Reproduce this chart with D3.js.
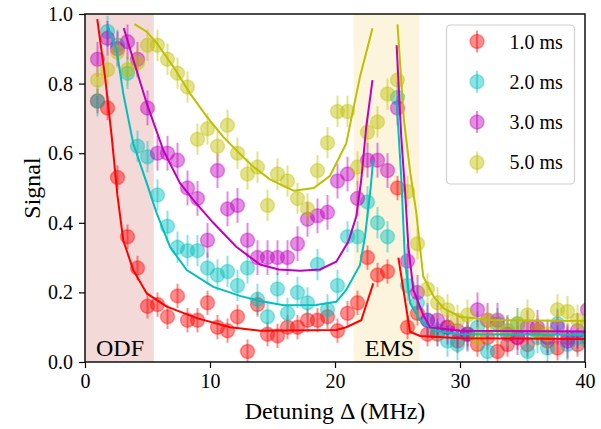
<!DOCTYPE html>
<html>
<head>
<meta charset="utf-8">
<script src="https://cdn.jsdelivr.net/npm/d3@7"></script>
<style>
  body { margin: 0; background: #fff; }
  svg { display: block; font-family: "Liberation Serif", "Times New Roman", serif; }
</style>
</head>
<body>
<div id="chart"></div>
<script>
// detuning grid (MHz)
var detuning = [1.0, 1.8, 2.6, 3.4, 4.2, 5.0, 5.8, 6.6, 7.4, 8.2,
    9.0, 9.8, 10.6, 11.4, 12.2, 13.0, 13.8, 14.6, 15.4, 16.2,
    17.0, 17.8, 18.6, 19.4, 20.2, 21.0, 21.8, 22.6, 23.4, 24.2,
    25.0, 25.8, 26.6, 27.4, 28.2, 29.0, 29.8, 30.6, 31.4, 32.2,
    33.0, 33.8, 34.6, 35.4, 36.2, 37.0, 37.8, 38.6, 39.4, 40.2];

var labels = ['1.0 ms', '2.0 ms', '3.0 ms', '5.0 ms'];
var colors = ['#ff0000', '#00bfbf', '#bf00bf', '#bfbf00'];
var errs = [0.035, 0.045, 0.05, 0.045];

var sig1 = [0.75, 0.73, 0.53, 0.36, 0.27, 0.16, 0.165, 0.13, 0.19, 0.12,
    0.12, 0.17, 0.10, 0.09, 0.13, 0.03, 0.165, 0.08, 0.075, 0.10,
    0.10, 0.12, 0.12, 0.13, 0.09, 0.14, 0.17, 0.30, 0.25, 0.26,
    0.50, 0.10, 0.14, 0.08, 0.08, 0.10, 0.06, 0.08, 0.05, 0.07,
    0.03, 0.05, 0.07, 0.05, 0.09, 0.06, 0.04, 0.07, 0.05, 0.07];
var sig2 = [0.75, 0.95, 0.91, 0.83, 0.62, 0.59, 0.48, 0.39, 0.33, 0.32,
    0.32, 0.27, 0.25, 0.26, 0.22, 0.27, 0.18, 0.13, 0.21, 0.14,
    0.20, 0.17, 0.28, 0.15, 0.22, 0.36, 0.36, 0.46, 0.40, 0.36,
    0.76, 0.22, 0.17, 0.12, 0.09, 0.06, 0.05, 0.08, 0.10, 0.03,
    0.11, 0.09, 0.11, 0.03, 0.07, 0.04, 0.11, 0.05, 0.07, 0.06];
var sig3 = [0.87, 0.93, 0.90, 0.92, 0.87, 0.73, 0.60, 0.60, 0.58, 0.50,
    0.47, 0.35, 0.55, 0.44, 0.45, 0.35, 0.30, 0.30, 0.30, 0.30,
    0.34, 0.41, 0.42, 0.43, 0.52, 0.54, 0.47, 0.58, 0.58, 0.55,
    0.73, 0.29, 0.20, 0.12, 0.12, 0.10, 0.09, 0.08, 0.15, 0.12,
    0.12, 0.08, 0.07, 0.10, 0.10, 0.07, 0.10, 0.06, 0.09, 0.15];
var sig5 = [0.81, 0.84, 0.89, 0.84, 0.86, 0.91, 0.91, 0.87, 0.83, 0.79,
    0.64, 0.67, 0.62, 0.68, 0.60, 0.54, 0.56, 0.45, 0.54, 0.52,
    0.47, 0.44, 0.55, 0.63, 0.72, 0.72, 0.56, 0.66, 0.69, 0.77,
    0.81, 0.49, 0.34, 0.21, 0.17, 0.15, 0.12, 0.135, 0.07, 0.12,
    0.10, 0.09, 0.11, 0.135, 0.09, 0.08, 0.15, 0.145, 0.12, 0.11];

// model curves, two branches each (left / right of the EMS resonance)
var fit1L = [[0.98, 0.985], [1.6, 0.82], [2.13, 0.65], [2.59, 0.48], [3.06, 0.35], [3.86, 0.264],
    [4.94, 0.197], [6.54, 0.159], [8.94, 0.126], [11.6, 0.10], [14, 0.09], [20.1, 0.092],
    [20.9, 0.10], [22.1, 0.12], [23.06, 0.226]];
var fit1R = [[25.07, 0.30], [26.0, 0.087], [26.8, 0.075], [30, 0.068], [40, 0.066]];
var fit2L = [[1.78, 0.968], [2.53, 0.897], [3.06, 0.772], [3.86, 0.628], [4.94, 0.514], [5.74, 0.427],
    [6.8, 0.331], [8.14, 0.264], [10.26, 0.216], [12.4, 0.19], [14, 0.175], [15.9, 0.163],
    [18.5, 0.164], [20.1, 0.173], [20.9, 0.207], [22, 0.279], [22.4, 0.36], [22.85, 0.50], [23.05, 0.58]];
var fit2R = [[24.93, 0.75], [25.3, 0.53], [25.6, 0.29], [26, 0.17], [26.8, 0.12], [28, 0.09],
    [30, 0.08], [40, 0.078]];
var fit3L = [[3.1, 0.96], [3.87, 0.868], [4.94, 0.743], [6.26, 0.609], [7.6, 0.514], [8.66, 0.466],
    [10.26, 0.40], [12.1, 0.331], [14, 0.28], [15.5, 0.266], [17.2, 0.262], [18.8, 0.266],
    [20.1, 0.288], [21.07, 0.346], [21.7, 0.418], [22.1, 0.523], [22.5, 0.676], [23.0, 0.81]];
var fit3R = [[24.93, 0.91], [25.3, 0.647], [25.6, 0.494], [25.87, 0.331], [26.27, 0.207],
    [27.06, 0.135], [27.6, 0.10], [30, 0.09], [40, 0.088]];
var fit5L = [[3.95, 0.971], [4.94, 0.949], [5.74, 0.916], [7.06, 0.849], [8.4, 0.772], [9.74, 0.705],
    [11.06, 0.647], [12.4, 0.598], [13.4, 0.563], [14.8, 0.525], [16.7, 0.492], [18.3, 0.50],
    [19.6, 0.535], [20.9, 0.628], [22, 0.82], [23.0, 0.959]];
var fit5R = [[25.0, 0.97], [25.5, 0.70], [26.0, 0.55], [26.5, 0.43], [27.06, 0.245], [27.9, 0.188],
    [28.7, 0.154], [30, 0.13], [32.7, 0.12], [40, 0.118]];

var xTicks = [0, 10, 20, 30, 40];
var yTicks = [0.0, 0.2, 0.4, 0.6, 0.8, 1.0];
var regions = [
    { name: 'ODF', from: 0, to: 5.5, fill: '#f4d9d9' },
    { name: 'EMS', from: 21.5, to: 26.75, fill: '#fcf4dd' }
];

var W = 601, H = 429;
var m = { left: 85, top: 14, right: 16, bottom: 67 };
var w = W - m.left - m.right, h = H - m.top - m.bottom;

var svg = d3.select('#chart').append('svg')
    .attr('width', W).attr('height', H);

var x = d3.scaleLinear().domain([0, 40]).range([0, w]);
var y = d3.scaleLinear().domain([0, 1]).range([h, 0]);

var g = svg.append('g').attr('transform', 'translate(' + m.left + ',' + m.top + ')');

g.append('clipPath').attr('id', 'clip')
    .append('rect').attr('width', w).attr('height', h);

// shaded regions
g.selectAll('.region').data(regions).enter().append('rect')
    .attr('class', 'region')
    .attr('x', function (d) { return x(d.from); })
    .attr('width', function (d) { return x(d.to) - x(d.from); })
    .attr('y', 0).attr('height', h)
    .attr('fill', function (d) { return d.fill; });

var series = [sig1, sig2, sig3, sig5];
var fits = [[fit1L, fit1R], [fit2L, fit2R], [fit3L, fit3R], [fit5L, fit5R]];

var plot = g.append('g').attr('clip-path', 'url(#clip)');

series.forEach(function (vals, k) {
    var pts = vals.map(function (v, i) { return { x: detuning[i], y: v }; });
    var s = plot.append('g');
    s.selectAll('line').data(pts).enter().append('line')
        .attr('x1', function (d) { return x(d.x); })
        .attr('x2', function (d) { return x(d.x); })
        .attr('y1', function (d) { return y(d.y - errs[k]); })
        .attr('y2', function (d) { return y(d.y + errs[k]); })
        .attr('stroke', colors[k]).attr('stroke-opacity', 0.45)
        .attr('stroke-width', 2);
    s.selectAll('circle').data(pts).enter().append('circle')
        .attr('cx', function (d) { return x(d.x); })
        .attr('cy', function (d) { return y(d.y); })
        .attr('r', 7)
        .attr('fill', colors[k]).attr('fill-opacity', 0.45)
        .attr('stroke', colors[k]).attr('stroke-opacity', 0.35)
        .attr('stroke-width', 1.5);
});

var line = d3.line()
    .x(function (d) { return x(d[0]); })
    .y(function (d) { return y(d[1]); });

fits.forEach(function (pair, k) {
    pair.forEach(function (f) {
        plot.append('path').datum(f)
            .attr('d', line)
            .attr('fill', 'none')
            .attr('stroke', colors[k])
            .attr('stroke-width', 2);
    });
});

// region names
g.selectAll('.rlabel').data(regions).enter().append('text')
    .attr('x', function (d) { return x(d.from) + 11; })
    .attr('y', h - 6)
    .attr('font-size', 24)
    .text(function (d) { return d.name; });

// axes
var xAxis = g.append('g').attr('transform', 'translate(0,' + h + ')')
    .call(d3.axisBottom(x).tickValues(xTicks).tickSize(6).tickPadding(6).tickFormat(d3.format('d')));
var yAxis = g.append('g')
    .call(d3.axisLeft(y).tickValues(yTicks).tickSize(6).tickPadding(6).tickFormat(d3.format('.1f')));
[xAxis, yAxis].forEach(function (a) {
    a.selectAll('text').attr('font-size', 20).attr('font-family', 'Liberation Serif').attr('fill', '#000');
    a.selectAll('line').attr('stroke', '#000').attr('stroke-width', 1.2);
    a.select('.domain').remove();
});

g.append('rect').attr('width', w).attr('height', h)
    .attr('fill', 'none').attr('stroke', '#000').attr('stroke-width', 1.4);

svg.append('text')
    .attr('x', m.left + w / 2).attr('y', H - 10)
    .attr('text-anchor', 'middle').attr('font-size', 24)
    .text('Detuning \u0394 (MHz)');
svg.append('text')
    .attr('transform', 'translate(40,' + (m.top + h / 2) + ') rotate(-90)')
    .attr('text-anchor', 'middle').attr('font-size', 24)
    .text('Signal');

// legend
var lg = svg.append('g').attr('transform', 'translate(446.5,25)');
lg.append('rect').attr('width', 128).attr('height', 159).attr('rx', 4)
    .attr('fill', '#fff').attr('fill-opacity', 0.8)
    .attr('stroke', '#d0d0d0').attr('stroke-width', 1.2);
labels.forEach(function (lab, k) {
    var yy = 16.5 + k * 40.3;
    lg.append('line').attr('x1', 30.5).attr('x2', 30.5)
        .attr('y1', yy - 11).attr('y2', yy + 11)
        .attr('stroke', colors[k]).attr('stroke-opacity', 0.45).attr('stroke-width', 2);
    lg.append('circle').attr('cx', 30.5).attr('cy', yy).attr('r', 7)
        .attr('fill', colors[k]).attr('fill-opacity', 0.45)
        .attr('stroke', colors[k]).attr('stroke-opacity', 0.35).attr('stroke-width', 1.5);
    lg.append('text').attr('x', 63).attr('y', yy).attr('dy', '0.35em')
        .attr('font-size', 20).text(lab);
});
</script>
</body>
</html>
